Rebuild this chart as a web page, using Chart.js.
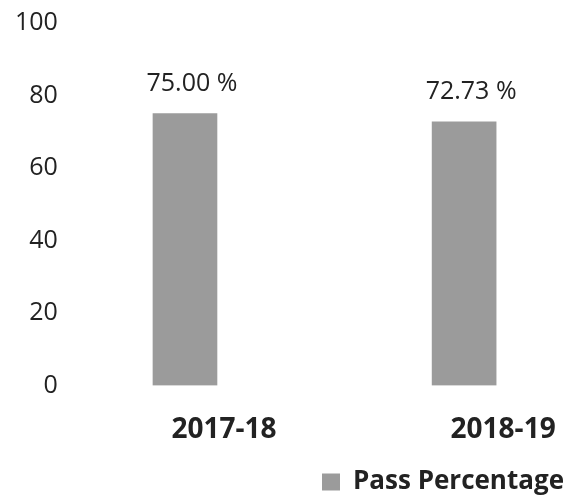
<!DOCTYPE html>
<html>
<head>
<meta charset="utf-8">
<script src="https://cdn.jsdelivr.net/npm/chart.js@4.4.1/dist/chart.umd.min.js"></script>
<style>
  html, body { margin: 0; padding: 0; background: #fff; }
  #wrap { width: 570px; height: 497px; position: relative; }
</style>
</head>
<body>
<div id="wrap"><canvas id="PassChart"></canvas></div>
<script>
var years = ["2017-18", "2018-19"];
var passPercent = [75.00, 72.73];
var yTicks = [0, 20, 40, 60, 80, 100];

var FONT = "'Open Sans', 'Noto Sans', sans-serif";
var INK = "#222222";
var BAR = "#9b9b9b";

// value text above each bar
var valueLabels = {
  id: "valueLabels",
  afterDatasetsDraw: function (chart) {
    var ctx = chart.ctx;
    var meta = chart.getDatasetMeta(0);
    ctx.save();
    ctx.font = "25px " + FONT;
    ctx.fillStyle = INK;
    ctx.textAlign = "center";
    ctx.textBaseline = "middle";
    meta.data.forEach(function (bar, i) {
      var v = chart.data.datasets[0].data[i].y;
      ctx.fillText(v.toFixed(2) + " %", bar.x + 7, bar.y - 30);
    });
    ctx.restore();
  }
};

var ctx = document.getElementById("PassChart");
var myChart = new Chart(ctx, {
  type: "bar",
  data: {
    datasets: [
      {
        label: "Pass Percentage",
        data: years.map(function (y, i) { return { x: i, y: passPercent[i] }; }),
        backgroundColor: BAR,
        borderWidth: 0,
        barThickness: 64
      }
    ]
  },
  options: {
    responsive: true,
    maintainAspectRatio: false,
    animation: false,
    layout: { padding: { top: 18, left: 7, right: 4, bottom: -8 } },
    plugins: {
      legend: {
        position: "bottom",
        align: "end",
        labels: {
          color: INK,
          font: { family: FONT, size: 26, weight: "bold" },
          boxWidth: 18,
          boxHeight: 17,
          padding: 2
        }
      },
      tooltip: { enabled: false }
    },
    scales: {
      x: {
        type: "linear",
        offset: false,
        min: -0.398,
        max: 1.365,
        grid: { display: false, offset: false },
        border: { display: false },
        afterBuildTicks: function (axis) {
          axis.ticks = years.map(function (y, i) { return { value: i }; });
        },
        ticks: {
          color: INK,
          padding: 20,
          labelOffset: 39,
          font: { family: FONT, size: 28, weight: "bold" },
          callback: function (v) { return years[v]; }
        }
      },
      y: {
        min: 0,
        max: 100,
        grid: { display: false },
        border: { display: false },
        afterBuildTicks: function (axis) {
          axis.ticks = yTicks.map(function (v) { return { value: v }; });
        },
        ticks: {
          color: INK,
          padding: 8,
          font: { family: FONT, size: 25 }
        }
      }
    }
  },
  plugins: [valueLabels]
});
</script>
</body>
</html>
